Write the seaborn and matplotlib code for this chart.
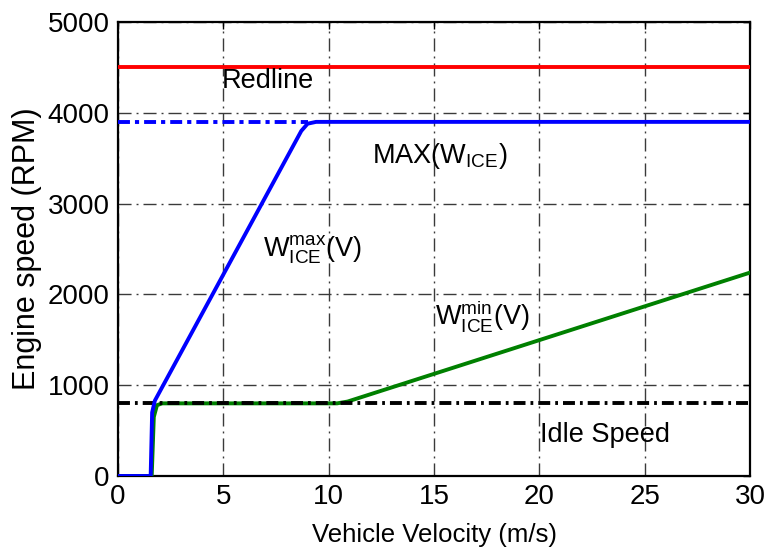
import matplotlib
matplotlib.use("Agg")
import matplotlib.pyplot as plt
import seaborn as sns
import pandas as pd

# ---- data ----
redline_x = [0, 30]
redline_y = [4500, 4500]

max_ext_x = [0, 9.0]
max_ext_y = [3900, 3900]

idle_x = [0, 30]
idle_y = [800, 800]

wmax_x = [0, 1.55, 1.62, 1.75, 8.7, 9.0, 9.4, 30]
wmax_y = [0, 0, 700, 830, 3800, 3880, 3900, 3900]

wmin_x = [0, 1.6, 1.7, 1.85, 2.1, 10.4, 10.9, 30]
wmin_y = [0, 0, 650, 780, 800, 800, 820, 2240]

x_ticks = [0, 5, 10, 15, 20, 25, 30]
y_ticks = [0, 1000, 2000, 3000, 4000, 5000]

sns.set_theme(style="white")
FONT = ["Liberation Sans", "DejaVu Sans"]
plt.rcParams["font.family"] = FONT
plt.rcParams["mathtext.fontset"] = "custom"
plt.rcParams["mathtext.rm"] = "Liberation Sans"
plt.rcParams["mathtext.it"] = "Liberation Sans"
plt.rcParams["lines.scale_dashes"] = False
plt.rcParams["text.color"] = "black"
plt.rcParams["axes.labelcolor"] = "black"

fig = plt.figure(figsize=(7.66, 5.54), dpi=100)
ax = fig.add_axes([118 / 766, 1 - 476 / 554, 632 / 766, 454 / 554])

grid_style = dict(color="#3a3a3a", linewidth=1.0, dashes=(9.4, 3.6, 1.4, 3.6))
ax.grid(True, **grid_style)
ax.set_axisbelow(True)

def line(x, y, color, lw, dashes=None, z=3):
    df = pd.DataFrame({"x": x, "y": y})
    sns.lineplot(data=df, x="x", y="y", ax=ax, color=color, linewidth=lw,
                 estimator=None, sort=False, zorder=z)
    if dashes is not None:
        ax.lines[-1].set_dashes(dashes)

line(redline_x, redline_y, "#ff0000", 2.8)
line(wmin_x, wmin_y, "#008000", 2.8, z=3)
line(idle_x, idle_y, "black", 2.8, dashes=(8.6, 3.6, 2.0, 3.6), z=4)
line(max_ext_x, max_ext_y, "#0000ff", 2.8, dashes=(8.6, 3.6, 3.0, 3.6), z=4)
line(wmax_x, wmax_y, "#0000ff", 2.8, z=5)

ax.set_xlim(0, 30)
ax.set_ylim(0, 5000)
ax.set_xticks(x_ticks)
ax.set_yticks(y_ticks)
ax.tick_params(direction="in", length=5, width=1, top=True, right=True,
               labelsize=20, pad=6, colors="black")
for s in ax.spines.values():
    s.set_visible(True)
    s.set_color("black")
    s.set_linewidth(1.6)

ax.set_xlabel("Vehicle Velocity (m/s)", fontsize=18.5, labelpad=9, color="black")
ax.set_ylabel("Engine speed (RPM)", fontsize=22, labelpad=4, color="black")

tkw = dict(fontsize=19.5, color="black", ha="left", va="baseline", zorder=6)
ax.text(4.94, 4273, "Redline", **tkw)
ax.text(12.05, 3447, r"$\mathregular{MAX(W_{ICE})}$", **tkw)
ax.text(6.9, 2415, r"$\mathregular{W_{ICE}^{max}(V)}$", **tkw)
ax.text(15.05, 1663, r"$\mathregular{W_{ICE}^{min}(V)}$", **tkw)
ax.text(20.03, 378, "Idle Speed", **tkw)

fig.savefig("out.png", dpi=100)
